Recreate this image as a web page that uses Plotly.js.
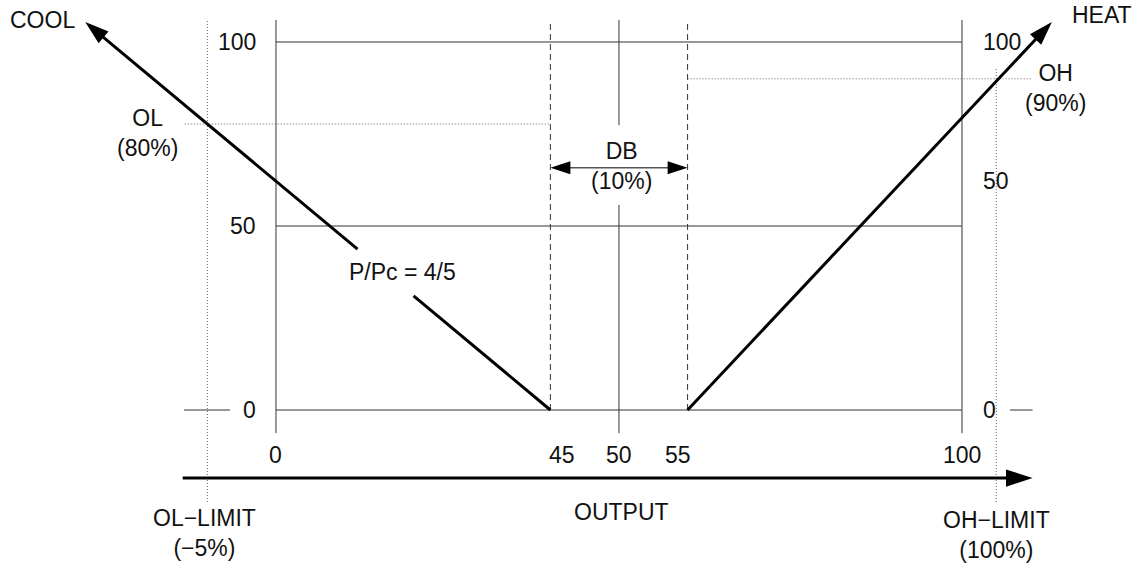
<!DOCTYPE html>
<html>
<head>
<meta charset="utf-8">
<script src="https://cdn.plot.ly/plotly-3.0.1.min.js"></script>
<style>body{margin:0;background:#fff}</style>
</head>
<body>
<div id="graph" style="width:1140px;height:567px"></div>
<script>
/* datos del diagrama (unidades: salida % en x, nivel % en y; el dibujo es esquematico) */
const outputTicks = ['0', '45', '50', '55', '100'];
const outputTickPos = [0, 41.7, 50, 58.6, 100];
const levelTicks = ['0', '50', '100'];
const levelLeftPos = [0, 50, 100];
const levelRightPos = [0, 62.2, 100];

const dbEdges = [40, 60];          // banda muerta (DB) dibujada
const coolX = [40, -27.8];         // recta de frio
const coolY = [0, 105.4];
const heatX = [60, 113.1];         // recta de calor
const heatY = [0, 105.4];
const limitX = [-10, 105];         // OL-LIMIT, OH-LIMIT
const limitTop = [106, 93.2];
const olLevel = 77.7;
const ohLevel = 90;

const topY = 106;
const axisBottom = -6.3;
const outputY = -18.5;
const coolGap = [31, 43.7];        // hueco para el texto P/Pc
const dbGap = [55.7, 77.4];        // hueco de la linea central

const lineColor = '#333';
const txtFont = {family: 'Liberation Sans, Arial, sans-serif', size: 23, color: '#111'};

function xAt(xs, ys, y){
    return xs[0] + (xs[1] - xs[0]) * (y - ys[0]) / (ys[1] - ys[0]);
}

/* marco: ejes, lineas de nivel y trazos cortos en 0 */
const frameX = [], frameY = [];
function addSeg(x0, y0, x1, y1){
    frameX.push(x0, x1, null);
    frameY.push(y0, y1, null);
}
addSeg(0, axisBottom, 0, topY);
addSeg(100, axisBottom, 100, topY);
addSeg(50, axisBottom, 50, dbGap[0]);
addSeg(50, dbGap[1], 50, topY);
for (let lv of levelLeftPos){
    addSeg(0, lv, 100, lv);
}
addSeg(-13.4, 0, -6.7, 0);
addSeg(107, 0, 110.3, 0);

const dashX = [], dashY = [];
for (let e of dbEdges){
    dashX.push(e, e, null);
    dashY.push(0, topY, null);
}

const dotX = [], dotY = [];
limitX.forEach((lx, i) => {
    dotX.push(lx, lx, null);
    dotY.push(-25, limitTop[i], null);
});
dotX.push(-13.3, dbEdges[0], null, dbEdges[1], 110.3);
dotY.push(olLevel, olLevel, null, ohLevel, ohLevel);

// punta de flecha solo en el ultimo punto
function arrowMarker(n, size){
    const sizes = new Array(n).fill(0);
    sizes[n - 1] = size;
    return {symbol: 'arrow', angleref: 'previous', size: sizes, color: '#000', opacity: 1, line: {width: 0}};
}

const traces = [
    {x: frameX, y: frameY, mode: 'lines', line: {color: lineColor, width: 1}},
    {x: dashX, y: dashY, mode: 'lines', line: {color: lineColor, width: 1, dash: '6px,4px'}},
    {x: dotX, y: dotY, mode: 'lines', line: {color: '#666', width: 1, dash: '1px,2px'}},
    {   // frio, con hueco para la etiqueta
        x: [coolX[0], xAt(coolX, coolY, coolGap[0]), null, xAt(coolX, coolY, coolGap[1]), coolX[1]],
        y: [coolY[0], coolGap[0], null, coolGap[1], coolY[1]],
        mode: 'lines+markers',
        line: {color: '#000', width: 3},
        marker: arrowMarker(5, 25)
    },
    {
        x: heatX, y: heatY,
        mode: 'lines+markers',
        line: {color: '#000', width: 3},
        marker: arrowMarker(2, 25)
    },
    {   // eje OUTPUT
        x: [-13.6, 110.3], y: [outputY, outputY],
        mode: 'lines+markers',
        line: {color: '#000', width: 3},
        marker: arrowMarker(2, 28)
    }
];
for (let e of dbEdges){
    traces.push({
        x: [50, e], y: [65.8, 65.8],
        mode: 'lines+markers',
        line: {color: '#555', width: 1.5},
        marker: arrowMarker(2, 21)
    });
}

function label(text, x, y, extra){
    return Object.assign({text: text, x: x, y: y, xref: 'x', yref: 'y',
        showarrow: false, font: txtFont}, extra || {});
}

const annotations = [
    label('COOL', -33.97, 106.0),
    label('HEAT', 120.4, 107.3),
    label('OL<br>(80%)', -18.8, 75.3),
    label('OH<br>(90%)', 113.6, 87.5),
    label('DB<br>(10%)', 50.3, 66.3),
    label('P/Pc = 4/5', 18.4, 37.5),
    label('OUTPUT', 50.3, -27.7),
    label('OL\u2212LIMIT<br>(\u22125%)', -10.35, -33.4),
    label('OH\u2212LIMIT<br>(100%)', 105.1, -34)
];
outputTicks.forEach((t, i) => annotations.push(label(t, outputTickPos[i], -12.2)));
levelTicks.forEach((t, i) => {
    annotations.push(label(t, -2.6, levelLeftPos[i], {xanchor: 'right'}));
    annotations.push(label(t, 102.8, levelRightPos[i], {xanchor: 'left'}));
});

const layout = {
    width: 1140,
    height: 567,
    margin: {l: 0, r: 0, t: 0, b: 0},
    paper_bgcolor: '#fff',
    plot_bgcolor: '#fff',
    showlegend: false,
    xaxis: {range: [-40.23, 125.95], visible: false, fixedrange: true},
    yaxis: {range: [-42.66, 111.41], visible: false, fixedrange: true},
    annotations: annotations
};

Plotly.newPlot('graph', traces, layout, {staticPlot: true});
</script>
</body>
</html>
